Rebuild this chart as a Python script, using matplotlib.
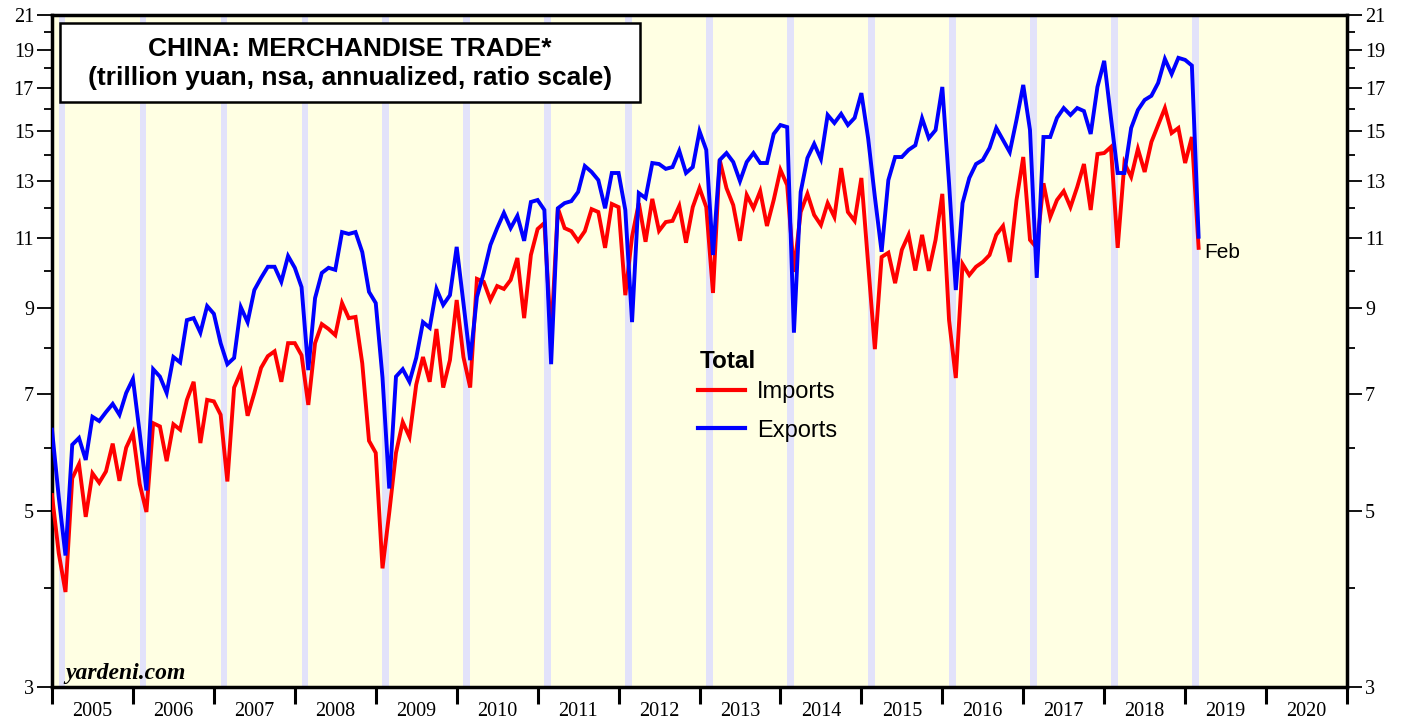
import numpy as np
import matplotlib
matplotlib.use("Agg")
import matplotlib.pyplot as plt
from matplotlib.ticker import FixedLocator, FixedFormatter, NullFormatter
from matplotlib.patches import Rectangle

# Monthly data, end-of-month, Dec 2004 .. Feb 2019 (trillion yuan, annualized)
start_year, start_month = 2004, 12

exports = [
    6.32, 5.2, 4.39, 6.05, 6.17, 5.79, 6.56, 6.48, 6.65, 6.81, 6.60, 7.03,
    7.32, 6.26, 5.3, 7.53, 7.37, 7.03, 7.80, 7.68, 8.68, 8.73, 8.37, 9.04,
    8.84, 8.12, 7.64, 7.78, 9.01, 8.63, 9.47, 9.81, 10.13, 10.13, 9.70, 10.45,
    10.10, 9.55, 7.51, 9.25, 9.95, 10.10, 10.04, 11.20, 11.14, 11.20, 10.57, 9.42,
    9.12, 7.35, 5.33, 7.37, 7.53, 7.26, 7.78, 8.63, 8.49, 9.50, 9.07, 9.33,
    10.73, 9.12, 7.73, 9.28, 9.95, 10.79, 11.33, 11.84, 11.33, 11.74, 10.92, 12.22,
    12.29, 11.94, 7.64, 12.0, 12.18, 12.25, 12.58, 13.56, 13.33, 13.02, 12.0, 13.29,
    13.29, 11.94, 8.63, 12.54, 12.36, 13.68, 13.64, 13.45, 13.52, 14.17, 13.29, 13.52,
    15.0, 14.21, 10.48, 13.80, 14.08, 13.72, 12.98, 13.72, 14.08, 13.68, 13.68, 14.88,
    15.27, 15.18, 8.37, 12.58, 13.88, 14.46, 13.84, 15.72, 15.36, 15.77, 15.27, 15.59,
    16.75, 14.7, 12.4, 10.58, 13.02, 13.92, 13.92, 14.21, 14.4, 15.57, 14.7, 15.05,
    17.05, 12.9, 9.47, 12.18, 13.10, 13.64, 13.80, 14.29, 15.14, 14.62, 14.12, 15.50,
    17.15, 15.05, 9.81, 14.75, 14.75, 15.59, 16.04, 15.72, 16.04, 15.90, 14.88, 17.05,
    18.39, 15.6, 13.29, 13.29, 15.14, 15.95, 16.42, 16.62, 17.25, 18.49, 17.70, 18.55,
    18.44, 18.14, 11.05,
]

imports = [
    5.23, 4.42, 3.95, 5.49, 5.72, 4.91, 5.57, 5.42, 5.60, 6.07, 5.45, 6.00,
    6.26, 5.40, 4.98, 6.44, 6.38, 5.77, 6.42, 6.32, 6.89, 7.26, 6.08, 6.89,
    6.86, 6.60, 5.44, 7.14, 7.47, 6.58, 7.03, 7.56, 7.82, 7.93, 7.26, 8.12,
    8.12, 7.84, 6.79, 8.12, 8.58, 8.46, 8.31, 9.12, 8.73, 8.76, 7.66, 6.12,
    5.91, 4.23, 4.97, 5.91, 6.46, 6.19, 7.20, 7.80, 7.26, 8.46, 7.14, 7.73,
    9.20, 7.80, 7.14, 9.78, 9.70, 9.20, 9.58, 9.50, 9.75, 10.39, 8.73, 10.48,
    11.30, 11.50, 8.26, 12.0, 11.33, 11.23, 10.92, 11.23, 11.97, 11.87, 10.70, 12.15,
    12.04, 9.33, 11.05, 12.18, 10.89, 12.33, 11.24, 11.53, 11.57, 12.08, 10.86, 12.04,
    12.72, 12.04, 9.39, 13.80, 12.72, 12.11, 10.92, 12.47, 12.0, 12.61, 11.40, 12.29,
    13.41, 12.83, 9.98, 11.87, 12.51, 11.77, 11.43, 12.18, 11.70, 13.48, 11.87, 11.57,
    13.10, 10.24, 7.98, 10.42, 10.55, 9.66, 10.64, 11.11, 10.02, 11.11, 10.01, 10.95,
    12.51, 8.68, 7.34, 10.21, 9.89, 10.13, 10.27, 10.48, 11.11, 11.40, 10.27, 12.29,
    13.92, 10.95, 10.70, 12.90, 11.70, 12.29, 12.61, 12.04, 12.76, 13.64, 11.94, 14.04,
    14.08, 14.33, 10.70, 13.68, 13.14, 14.25, 13.33, 14.54, 15.27, 16.04, 14.92, 15.14,
    13.68, 14.75, 10.70,
]

years = list(range(2005, 2021))
y_major = [3, 5, 7, 9, 11, 13, 15, 17, 19, 21]
y_minor = [4, 6, 8, 10, 12, 14, 16, 18, 20]
shade_years = list(range(2005, 2020))

# time axis: end of month as fractional year
n = len(exports)
t = np.array([start_year + (start_month + k) / 12.0 for k in range(n)])

W, H = 1407, 721
fig = plt.figure(figsize=(W / 100, H / 100), dpi=100)
fig.patch.set_facecolor("white")
L, R, T, B = 52, 1347, 15, 687
ax = fig.add_axes([L / W, 1 - B / H, (R - L) / W, (B - T) / H])
ax.set_facecolor("#FFFFE3")

serif = "Liberation Serif"
sans = "Liberation Sans"

# Feb shading bands
for yr in shade_years:
    ax.axvspan(yr + 1 / 12, yr + 2 / 12, color="#E2E2FA", lw=0, zorder=1)

ax.plot(t, imports, color="#FF0000", lw=2.8, zorder=3, label="Imports",
        solid_joinstyle="miter")
ax.plot(t, exports, color="#0000FF", lw=2.8, zorder=3, label="Exports",
        solid_joinstyle="miter")

ax.set_yscale("log")
ax.set_ylim(3, 21)
ax.set_xlim(2005, 2021)

ax.yaxis.set_major_locator(FixedLocator(y_major))
ax.yaxis.set_major_formatter(FixedFormatter([str(v) for v in y_major]))
ax.yaxis.set_minor_locator(FixedLocator(y_minor))
ax.yaxis.set_minor_formatter(NullFormatter())

ax.xaxis.set_major_locator(FixedLocator(years + [2021]))
ax.xaxis.set_major_formatter(NullFormatter())
ax.xaxis.set_minor_locator(FixedLocator([y + 0.5 for y in years]))
ax.xaxis.set_minor_formatter(FixedFormatter([str(y) for y in years]))

ax.tick_params(axis="y", which="major", direction="out", length=11, width=1.3,
               left=True, right=True, labelleft=True, labelright=True,
               labelsize=14.5, pad=2)
ax.tick_params(axis="y", which="minor", direction="out", length=5.5, width=1.3,
               left=True, right=True)
ax.tick_params(axis="x", which="major", direction="out", length=12, width=2.2,
               bottom=True, top=False)
ax.tick_params(axis="x", which="minor", length=0, labelsize=14.5, pad=11)
for lab in ax.get_yticklabels() + ax.get_xticklabels(minor=True):
    lab.set_fontfamily(serif)

for s in ["left", "right", "top", "bottom"]:
    ax.spines[s].set_linewidth(2.5)
    ax.spines[s].set_color("black")

# Title box
fig.patches.append(Rectangle((60 / W, 1 - 102 / H), 580 / W, 79 / H,
                             transform=fig.transFigure, facecolor="white",
                             edgecolor="black", lw=1.8, zorder=5))
fig.text(350 / W, 1 - 49 / H, "CHINA: MERCHANDISE TRADE*", ha="center",
         va="center", fontsize=19, fontweight="bold", family=sans, zorder=6)
fig.text(350 / W, 1 - 78 / H, "(trillion yuan, nsa, annualized, ratio scale)",
         ha="center", va="center", fontsize=19, fontweight="bold",
         family=sans, zorder=6)

# Legend
fig.text(700 / W, 1 - 361 / H, "Total", ha="left", va="center",
         fontsize=17.5, fontweight="bold", family=sans)
leg = ax.legend(loc="upper left", bbox_to_anchor=(698 / W, 1 - 381 / H),
                bbox_transform=fig.transFigure, frameon=False,
                prop={"family": sans, "size": 17},
                handlelength=2.0, handletextpad=0.5, labelspacing=0.7,
                borderpad=0, borderaxespad=0)
for ln in leg.get_lines():
    ln.set_linewidth(3)

ax.annotate("Feb", xy=(t[-1], imports[-1]), xytext=(4, -3),
            textcoords="offset points", fontsize=15, family=sans,
            ha="left", va="center")

fig.text(65 / W, 1 - 673 / H, "yardeni.com", fontsize=17, family=serif,
         fontweight="bold", style="italic", ha="left", va="center")

fig.savefig("out.png", dpi=100)
